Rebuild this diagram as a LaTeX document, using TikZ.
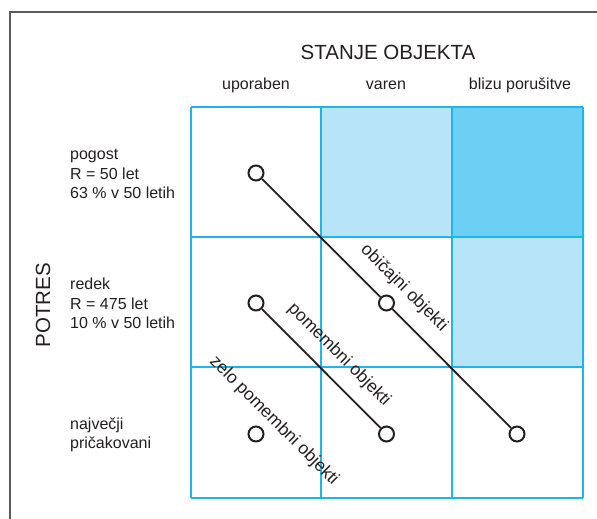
\documentclass[tikz,border=0pt]{standalone}
\usepackage{fontspec}
\setmainfont{Liberation Sans}
\definecolor{gridcyan}{HTML}{1CB6EC}
\definecolor{cellpale}{HTML}{B8E4F8}
\definecolor{celldeep}{HTML}{6ECFF5}
\definecolor{framegray}{HTML}{5A5A5A}
\definecolor{ink}{HTML}{231F20}
\tikzset{
  big/.style={font=\fontsize{20.5}{24}\selectfont, text=ink, inner sep=0pt},
  small/.style={font=\fontsize{16}{19.5}\selectfont, text=ink, inner sep=0pt},
  rowlabel/.style={small, align=left, anchor=west},
  diaglabel/.style={font=\fontsize{17.5}{20}\selectfont, text=ink, inner sep=0pt, rotate=-45, anchor=center},
  dot/.style={circle, draw=ink, line width=2pt, minimum size=15pt, inner sep=0pt, fill=none},
  link/.style={draw=ink, line width=1.8pt},
  gridline/.style={draw=gridcyan, line width=2.2pt},
}
\begin{document}
\begin{tikzpicture}[x=1pt, y=-1pt]
  \useasboundingbox (0,0) rectangle (597,519);

  % outer frame (top and left sides only)
  \draw[framegray, line width=2pt] (10,519) -- (10,12) -- (597,12);

  % shaded cells
  \fill[cellpale] (321,107) rectangle (452,237);
  \fill[celldeep] (452,107) rectangle (583,237);
  \fill[cellpale] (452,237) rectangle (583,367);

  % 3x3 grid
  \foreach \gx in {191,321,452,583} \draw[gridline] (\gx,107) -- (\gx,498);
  \foreach \gy in {107,237,367,498} \draw[gridline] (191,\gy) -- (583,\gy);

  % headings
  \node[big] (stanje) at (388,52) {STANJE OBJEKTA};
  \node[small] (col1) at (256,85) {uporaben};
  \node[small] (col2) at (386,85) {varen};
  \node[small] (col3) at (520,85) {blizu porušitve};

  \node[big, rotate=90] (potres) at (43,305) {POTRES};
  \node[rowlabel] (row1) at (70,174) {pogost\\R = 50 let\\63 \% v 50 letih};
  \node[rowlabel] (row2) at (70,303.5) {redek\\R = 475 let\\10 \% v 50 letih};
  \node[rowlabel] (row3) at (70,435) {največji\\pričakovani};

  % performance points
  \node[dot] (p11) at (256,173) {};
  \node[dot] (p21) at (256,303) {};
  \node[dot] (p31) at (256,434) {};
  \node[dot] (p22) at (386.5,303) {};
  \node[dot] (p32) at (386.5,434) {};
  \node[dot] (p33) at (517,434) {};

  % performance lines
  \draw[link] (p11) -- (p22);
  \draw[link] (p22) -- (p33);
  \draw[link] (p21) -- (p32);

  % line labels
  \node[diaglabel] (lab1) at (404,288) {običajni objekti};
  \node[diaglabel] (lab2) at (339,355) {pomembni objekti};
  \node[diaglabel] (lab3) at (274,421) {zelo pomembni objekti};
\end{tikzpicture}
\end{document}
